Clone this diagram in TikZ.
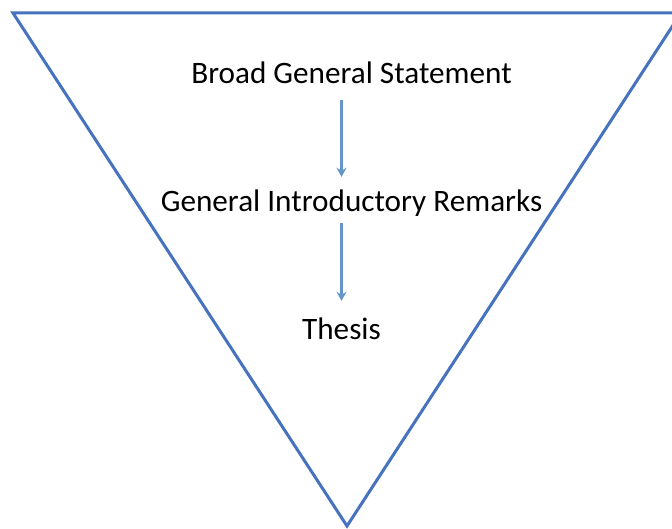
\documentclass[tikz,border=0pt]{standalone}
\usepackage{fontspec}
\setmainfont{Carlito}
\usetikzlibrary{arrows.meta}
\definecolor{triblue}{RGB}{70,114,190}
\definecolor{arrowblue}{RGB}{100,150,200}

\begin{document}
\begin{tikzpicture}[x=1pt, y=-1pt,
	step text/.style={font=\fontsize{31.2}{37}\selectfont, inner sep=0pt, text height=20pt, text depth=0pt, anchor=base},
	flow/.style={draw=arrowblue, line width=2.2pt, -{Stealth[length=9pt, width=10pt]}}]
	\useasboundingbox (0,0) rectangle (672,529);
	\clip (0,0) rectangle (672,529);
	\draw[triblue, line width=3pt] (13,13)--(681,13)--(347,526)--cycle;
	\node[step text] (broad) at (351.5,84) {Broad General Statement};
	\node[step text] (general) at (351.5,212) {General Introductory Remarks};
	\node[step text] (thesis) at (341.5,340) {Thesis};
	\draw[flow, shorten <=16pt, shorten >=15pt] (broad.south -| thesis) -- (general.north -| thesis);
	\draw[flow, shorten <=11pt, shorten >=19pt] (general.south -| thesis) -- (thesis.north);
\end{tikzpicture}
\end{document}
